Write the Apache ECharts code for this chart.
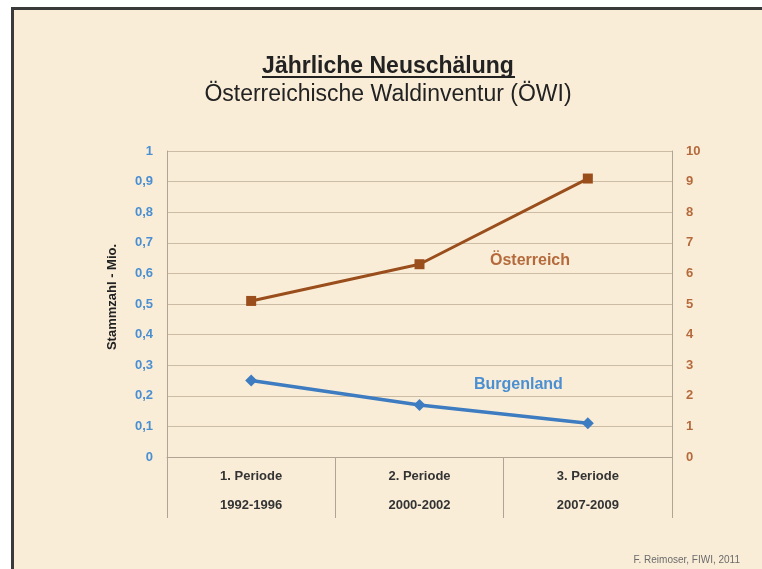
<!DOCTYPE html>
<html>
<head>
<meta charset="utf-8">
<script src="https://cdn.jsdelivr.net/npm/echarts@6/dist/echarts.min.js"></script>
<style>
  html, body { margin: 0; padding: 0; background: #ffffff; overflow: hidden; }
  .slide { position: relative; width: 762px; height: 569px; overflow: hidden; }
  /* paper with a dark top/left edge, as in the photographed slide */
  .slide__paper {
    position: absolute; left: 11px; top: 7px; width: 800px; height: 600px;
    background: #faedd8;
    border-top: 3px solid #3a3a3a;
    border-left: 3px solid #3a3a3a;
  }
  #chart { position: absolute; left: 0; top: 0; width: 762px; height: 569px; }
</style>
</head>
<body>
<div class="slide">
  <div class="slide__paper"></div>
  <div id="chart"></div>
</div>
<script>
// data
const periods = ['1. Periode\n1992-1996', '2. Periode\n2000-2002', '3. Periode\n2007-2009']
const burgenland = [0.25, 0.17, 0.11]   // left axis, Mio.
const oesterreich = [5.1, 6.3, 9.1]     // right axis, Mio.
const leftTicks = ['0', '0,1', '0,2', '0,3', '0,4', '0,5', '0,6', '0,7', '0,8', '0,9', '1']
const rightTicks = ['0', '1', '2', '3', '4', '5', '6', '7', '8', '9', '10']

const C = {
  grid: '#cdbca4',
  axis: '#b0a594',
  blue: '#3d7cc0',
  blueLabel: '#4a8fd2',
  brown: '#9a4e1c',
  brownLabel: '#b56a3c',
  ink: '#222222'
}
const FONT = 'Liberation Sans, Arial, sans-serif'

const chart = echarts.init(document.getElementById('chart'))

chart.setOption({
  backgroundColor: 'transparent',
  animation: false,
  textStyle: { fontFamily: FONT },
  graphic: [
    // title underline
    { type: 'line', shape: { x1: 262, y1: 77, x2: 515, y2: 77 }, style: { stroke: C.ink, lineWidth: 2 } },
    {
      type: 'text', left: 490, top: 253,
      style: { text: 'Österreich', fill: C.brownLabel, font: 'bold 16px ' + FONT }
    },
    {
      type: 'text', left: 474, top: 377,
      style: { text: 'Burgenland', fill: C.blueLabel, font: 'bold 16px ' + FONT }
    },
    {
      type: 'text', right: 22, top: 555,
      style: { text: 'F. Reimoser, FIWI, 2011', fill: '#6b6b6b', font: '10px ' + FONT }
    }
  ],
  title: {
    text: 'Jährliche Neuschälung',
    subtext: 'Österreichische Waldinventur (ÖWI)',
    left: 383,
    textAlign: 'center',
    top: 50,
    itemGap: 5,
    textStyle: { color: C.ink, fontSize: 23, fontWeight: 'bold', fontFamily: FONT },
    subtextStyle: { color: C.ink, fontSize: 23, fontFamily: FONT }
  },
  grid: { left: 167, right: 90, top: 151, bottom: 112 },
  xAxis: {
    type: 'category',
    data: periods,
    boundaryGap: true,
    axisLine: { lineStyle: { color: C.axis } },
    axisTick: { show: true, inside: false, length: 61, lineStyle: { color: C.axis } },
    axisLabel: {
      color: '#333333', fontSize: 13, fontWeight: 'bold',
      lineHeight: 29, margin: 5
    },
    splitLine: { show: false }
  },
  yAxis: [
    {
      type: 'value',
      min: 0, max: 1, interval: 0.1,
      name: 'Stammzahl - Mio.',
      nameLocation: 'middle',
      nameGap: 48,
      nameRotate: 90,
      nameTextStyle: { color: C.ink, fontSize: 13, fontWeight: 'bold', padding: [0, 0, 0, 14] },
      axisLine: { show: true, lineStyle: { color: C.axis } },
      axisTick: { show: false },
      axisLabel: {
        color: C.blueLabel, fontSize: 13, fontWeight: 'bold', margin: 14,
        formatter: (v) => leftTicks[Math.round(v * 10)]
      },
      splitLine: { lineStyle: { color: C.grid, width: 1 } }
    },
    {
      type: 'value',
      min: 0, max: 10, interval: 1,
      axisLine: { show: true, lineStyle: { color: C.axis } },
      axisTick: { show: false },
      axisLabel: {
        color: C.brownLabel, fontSize: 13, fontWeight: 'bold', margin: 14,
        formatter: (v) => rightTicks[Math.round(v)]
      },
      splitLine: { show: false }
    }
  ],
  series: [
    {
      name: 'Österreich',
      type: 'line',
      yAxisIndex: 1,
      data: oesterreich,
      symbol: 'rect',
      symbolSize: 10,
      lineStyle: { color: C.brown, width: 3 },
      itemStyle: { color: C.brown }
    },
    {
      name: 'Burgenland',
      type: 'line',
      yAxisIndex: 0,
      data: burgenland,
      symbol: 'diamond',
      symbolSize: [12, 12],
      lineStyle: { color: C.blue, width: 3.5 },
      itemStyle: { color: C.blue }
    }
  ]
})
</script>
</body>
</html>
